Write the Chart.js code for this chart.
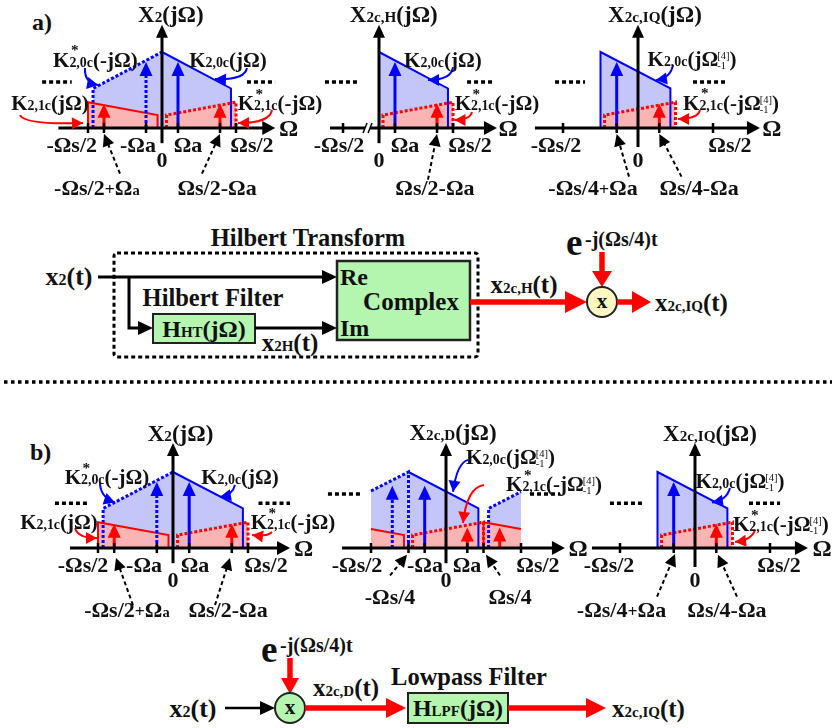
<!DOCTYPE html>
<html>
<head>
<meta charset="utf-8">
<title>Spectra of the IQ conversion</title>
<script src="https://cdn.jsdelivr.net/npm/chart.js@4.4.1/dist/chart.umd.min.js"></script>
<style>
  body { margin:0; background:#fff; }
  #page { position:relative; width:836px; height:728px; overflow:hidden; background:#fff;
          font-family:"Liberation Serif","Times New Roman",serif; font-weight:bold; color:#111; }
  #page svg { position:absolute; left:0; top:0; }
  canvas.spec { position:absolute; }
  .lbl { position:absolute; white-space:nowrap; font-size:22px; line-height:1; transform:translate(-50%,-50%); }
  .s { font-size:66%; }
  .p { font-size:80%; }
  .st { font-size:66%; position:relative; }
  .st b { position:absolute; left:0.1em; top:-0.8em; font-size:110%; }
  .ud { display:inline-block; font-size:50%; line-height:0.95; vertical-align:-0.3em; font-weight:normal; margin-left:-0.1em; }
  .ud span { display:block; }
</style>
</head>
<body>
<div id="page">
<svg width="836" height="728" style="font-family:'Liberation Serif',serif;font-weight:bold" fill="#111">
  <text x="32" y="30" font-size="24">a)</text>
  <text x="30" y="460" font-size="24">b)</text>

  <!-- a) Hilbert transform path -->
  <text x="308" y="246" text-anchor="middle" font-size="24.5">Hilbert Transform</text>
  <rect x="114" y="253" width="364" height="104" rx="3" fill="none" stroke="#000" stroke-width="3" stroke-dasharray="4 3"/>
  <text x="69" y="285" text-anchor="middle" font-size="26">x<tspan font-size="16">2</tspan>(t)</text>
  <line x1="98" y1="277" x2="324" y2="277" stroke="#000" stroke-width="3"/>
  <polygon points="337,277 322,270 322,284" fill="#000"/>
  <polyline points="129,277 129,328 140,328" fill="none" stroke="#000" stroke-width="3"/>
  <polygon points="153,328 138,321 138,335" fill="#000"/>
  <text x="213" y="306" text-anchor="middle" font-size="24.5">Hilbert Filter</text>
  <rect x="153" y="314" width="102" height="29" fill="#b4f5b0" stroke="#222" stroke-width="2"/>
  <text x="204" y="337" text-anchor="middle" font-size="24">H<tspan font-size="15">HT</tspan>(jΩ)</text>
  <line x1="255" y1="328" x2="324" y2="328" stroke="#000" stroke-width="3"/>
  <polygon points="337,328 322,321 322,335" fill="#000"/>
  <text x="290" y="351" text-anchor="middle" font-size="25">x<tspan font-size="15">2H</tspan>(t)</text>
  <rect x="337" y="261" width="133" height="79" fill="#b4f5b0" stroke="#222" stroke-width="2.5"/>
  <text x="340" y="285" font-size="24">Re</text>
  <text x="411" y="310" text-anchor="middle" font-size="25">Complex</text>
  <text x="340" y="336" font-size="24">Im</text>
  <line x1="470" y1="302" x2="568" y2="302" stroke="#f00" stroke-width="5.5"/>
  <polygon points="587,302 565,291 565,313" fill="#f00"/>
  <text x="524" y="293" text-anchor="middle" font-size="25">x<tspan font-size="15">2c,H</tspan>(t)</text>
  <text x="566" y="255" font-size="37">e</text>
  <text x="585" y="246" font-size="20">-j(Ωs/4)t</text>
  <line x1="602" y1="252" x2="602" y2="273" stroke="#f00" stroke-width="5.5"/>
  <polygon points="602,287 592,271 612,271" fill="#f00"/>
  <circle cx="602" cy="302" r="15" fill="#fbf8c4" stroke="#222" stroke-width="2"/>
  <text x="602" y="308" text-anchor="middle" font-size="21">x</text>
  <line x1="617" y1="302" x2="634" y2="302" stroke="#f00" stroke-width="5.5"/>
  <polygon points="651,302 632,291 632,313" fill="#f00"/>
  <text x="655" y="311" font-size="25">x<tspan font-size="15">2c,IQ</tspan>(t)</text>

  <line x1="4" y1="382" x2="832" y2="382" stroke="#000" stroke-width="3.5" stroke-dasharray="3.5 3.5"/>

  <!-- b) down-conversion path -->
  <text x="261" y="662" font-size="37">e</text>
  <text x="280" y="652" font-size="20">-j(Ωs/4)t</text>
  <line x1="290" y1="658" x2="290" y2="680" stroke="#f00" stroke-width="5.5"/>
  <polygon points="290,694 281,678 299,678" fill="#f00"/>
  <text x="193" y="717" text-anchor="middle" font-size="26">x<tspan font-size="16">2</tspan>(t)</text>
  <line x1="225" y1="708" x2="262" y2="708" stroke="#000" stroke-width="2.5"/>
  <polygon points="275,708 260,701 260,715" fill="#000"/>
  <circle cx="290" cy="708" r="15" fill="#b4f5b0" stroke="#222" stroke-width="2"/>
  <text x="290" y="714" text-anchor="middle" font-size="21">x</text>
  <line x1="305" y1="708" x2="388" y2="708" stroke="#f00" stroke-width="5.5"/>
  <polygon points="406,708 386,698 386,718" fill="#f00"/>
  <text x="346" y="696" text-anchor="middle" font-size="25">x<tspan font-size="15">2c,D</tspan>(t)</text>
  <text x="469" y="685" text-anchor="middle" font-size="24.5">Lowpass Filter</text>
  <rect x="408" y="693" width="100" height="30" fill="#b4f5b0" stroke="#222" stroke-width="2"/>
  <text x="458" y="716" text-anchor="middle" font-size="24">H<tspan font-size="15">LPF</tspan>(jΩ)</text>
  <line x1="508" y1="708" x2="588" y2="708" stroke="#f00" stroke-width="5.5"/>
  <polygon points="606,708 586,698 586,718" fill="#f00"/>
  <text x="612" y="717" font-size="25">x<tspan font-size="15">2c,IQ</tspan>(t)</text>
</svg>
</div>
<script>
// ---- spectra: Ω in units of Ωs, height relative to the X2 peak ----
// X2(jΩ)
const x2Blue         = [[0, 1], [0.466, 0.52], [0.466, 0]];
const x2BlueConj     = [[-0.466, 0], [-0.466, 0.52], [0, 1]];
const x2Red          = [[-0.5, 0], [-0.5, 0.34], [-0.03, 0.17], [-0.03, 0]];
const x2RedConj      = [[0.03, 0], [0.03, 0.17], [0.5, 0.34], [0.5, 0]];
const x2ToneBlue     = [[0.108, 0.87]];
const x2ToneBlueConj = [[-0.108, 0.87]];
const x2ToneRed      = [[-0.392, 0.32], [0.392, 0.32]];
const x2Ticks        = [-0.5, -0.392, -0.108, 0.108, 0.392, 0.5];

// X2c,H(jΩ)
const xhBlue     = [[0, 1], [0.466, 0.52], [0.466, 0]];
const xhRedConj  = [[0.027, 0], [0.027, 0.17], [0.5, 0.34], [0.5, 0]];
const xhToneBlue = [[0.108, 0.87]];
const xhToneRed  = [[0.392, 0.32]];
const xhTicks    = [-0.243, 0.108, 0.392, 0.5];

// X2c,D(jΩ)
const xdBlueConj     = [[-0.5, 0.75], [-0.25, 1], [-0.25, 0]];
const xdBlue         = [[-0.25, 1], [0.216, 0.52], [0.216, 0]];
const xdBlueConj2    = [[0.284, 0], [0.284, 0.52], [0.5, 0.74]];
const xdRed          = [[-0.5, 0.25], [-0.28, 0.17], [-0.28, 0]];
const xdRedConj      = [[-0.223, 0], [-0.223, 0.17], [0.25, 0.34], [0.25, 0]];
const xdRed2         = [[0.25, 0], [0.25, 0.34], [0.5, 0.25]];
const xdToneBlue     = [[-0.142, 0.82]];
const xdToneBlueConj = [[-0.358, 0.82]];
const xdToneRed      = [[0.142, 0.27], [0.358, 0.27]];
const xdTicks        = [-0.5, -0.25, -0.142, 0.142, 0.25, 0.5];

// X2c,IQ(jΩ)
const xqBlue     = [[-0.25, 0], [-0.25, 1], [0.216, 0.52], [0.216, 0]];
const xqRedConj  = [[-0.223, 0], [-0.223, 0.17], [0.25, 0.34], [0.25, 0]];
const xqToneBlue = [[-0.142, 0.87]];
const xqToneRed  = [[0.142, 0.32]];
const xqTicks    = [-0.5, -0.142, 0.142, 0.5];

const STYLE = {
  red:      { line: '#ff0000', fill: '#fbb4b4', w: 2, dash: [] },
  redDash:  { line: '#ff0000', fill: '#fbb4b4', w: 3, dash: [3, 2] },
  blue:     { line: '#0000ff', fill: '#c4c6fa', w: 2, dash: [] },
  blueDash: { line: '#0000ff', fill: '#c4c6fa', w: 3, dash: [3, 2] }
};

// red first so its fill lands on top of the blue one
const specX2 = {
  sets: [['red', x2Red], ['redDash', x2RedConj], ['blue', x2Blue], ['blueDash', x2BlueConj]],
  tones: [['red', x2ToneRed], ['blue', x2ToneBlue], ['blueDash', x2ToneBlueConj]]
};
const specXH = {
  sets: [['redDash', xhRedConj], ['blue', xhBlue]],
  tones: [['red', xhToneRed], ['blue', xhToneBlue]]
};
const specXD = {
  sets: [['red', xdRed], ['red', xdRed2], ['redDash', xdRedConj], ['blue', xdBlue], ['blueDash', xdBlueConj], ['blueDash', xdBlueConj2]],
  tones: [['red', xdToneRed], ['blue', xdToneBlue], ['blueDash', xdToneBlueConj]]
};
const specXQ = {
  sets: [['redDash', xqRedConj], ['blue', xqBlue]],
  tones: [['red', xqToneRed], ['blue', xqToneBlue]]
};

const sm = t => '<span class="s">' + t + '</span>';
const st = t => '<span class="st">' + t + '<b>*</b></span>';
const om = t => 'Ω<span class="ud"><span>[4]</span><span>' + t + '</span></span>';

const decoX2a = {
  axis: { x: [-0.7, 0.765], y: [-0.2, 1.36] }, ticks: x2Ticks,
  dots: [[-0.81, -0.61, 0.605], [0.574, 0.764, 0.605]],
  pointers: [[-0.284, -0.6, -0.392, -0.08], [0.27, -0.6, 0.392, -0.08]],
  curves: [['blue', [-0.52, 0.79], [-0.527, 0.6], [-0.432, 0.566]],
           ['blue', [0.574, 0.79], [0.56, 0.63], [0.358, 0.645]],
           ['red', [-0.96, 0.17], [-0.926, 0.04], [-0.534, 0.066]],
           ['red', [0.743, 0.237], [0.73, 0.066], [0.514, 0.066]]],
  labels: [
    ['X' + sm('2') + '(jΩ)', 0.06, 1.5, 23],
    ['K' + st('2,0c') + '(-jΩ)', -0.45, 0.9, 21],
    ['K' + sm('2,0c') + '(jΩ)', 0.446, 0.9, 21],
    ['K' + sm('2,1c') + '(jΩ)', -0.757, 0.33, 21],
    ['K' + st('2,1c') + '(-jΩ)', 0.797, 0.33, 21],
    ['-Ωs/2', -0.61, -0.22], ['-Ωa', -0.162, -0.22], ['Ωa', 0.176, -0.22], ['Ωs/2', 0.608, -0.22],
    ['0', 0, -0.42], ['Ω', 0.855, 0, 24],
    ['-Ωs/2<span class="p">+</span>Ω' + sm('a'), -0.44, -0.79], ['Ωs/2-Ωa', 0.372, -0.79]
  ]
};
const decoX2b = {
  axis: { x: [-0.687, 0.78], y: [-0.2, 1.38] }, ticks: x2Ticks,
  dots: [[-0.787, -0.573, 0.59], [0.57, 0.78, 0.59]],
  pointers: [[-0.267, -0.75, -0.38, -0.13], [0.28, -0.75, 0.38, -0.13]],
  curves: [['blue', [-0.487, 0.87], [-0.487, 0.67], [-0.387, 0.6]],
           ['blue', [0.413, 0.83], [0.4, 0.7], [0.313, 0.67]],
           ['red', [-0.653, 0.26], [-0.633, 0.13], [-0.507, 0.13]],
           ['red', [0.66, 0.21], [0.627, 0.145], [0.527, 0.17]]],
  labels: [
    ['X' + sm('2') + '(jΩ)', 0.05, 1.51, 23],
    ['K' + st('2,0c') + '(-jΩ)', -0.44, 0.93, 21],
    ['K' + sm('2,0c') + '(jΩ)', 0.447, 0.93, 21],
    ['K' + sm('2,1c') + '(jΩ)', -0.76, 0.34, 21],
    ['K' + st('2,1c') + '(-jΩ)', 0.8, 0.34, 21],
    ['-Ωs/2', -0.6, -0.22], ['-Ωa', -0.193, -0.22], ['Ωa', 0.147, -0.22], ['Ωs/2', 0.62, -0.22],
    ['0', 0, -0.42], ['Ω', 0.87, 0, 24],
    ['-Ωs/2<span class="p">+</span>Ω' + sm('a'), -0.307, -0.82], ['Ωs/2-Ωa', 0.367, -0.82]
  ]
};
const decoXH = {
  axis: { x: [-0.331, 0.797], y: [-0.2, 1.36] }, ticks: xhTicks, brk: -0.074,
  dots: [[-0.365, -0.142, 0.605], [0.595, 0.77, 0.605]],
  pointers: [[0.331, -0.68, 0.392, -0.08]],
  curves: [['blue', [0.5, 0.8], [0.49, 0.63], [0.331, 0.63]],
           ['red', [0.628, 0.21], [0.615, 0.105], [0.51, 0.105]]],
  labels: [
    ['X' + sm('2c,H') + '(jΩ)', 0.1, 1.5, 23],
    ['K' + sm('2,0c') + '(jΩ)', 0.432, 0.9, 21],
    ['K' + st('2,1c') + '(-jΩ)', 0.797, 0.33, 21],
    ['-Ωs/2', -0.27, -0.22], ['Ωa', 0.176, -0.22], ['Ωs/2', 0.615, -0.22],
    ['0', 0, -0.42], ['Ω', 0.872, 0, 24], ['Ωs/2-Ωa', 0.378, -0.79]
  ]
};
const decoXD = {
  axis: { x: [-0.693, 0.793], y: [-0.2, 1.38] }, ticks: xdTicks,
  dots: [[-0.787, -0.573, 0.71], [0.56, 0.76, 0.71]],
  pointers: [[-0.373, -0.36, -0.26, -0.09], [0.36, -0.36, 0.267, -0.09]],
  curves: [['blue', [0.147, 1.16], [0.073, 1.12], [0.047, 0.74]],
           ['red', [0.253, 0.83], [0.14, 0.8], [0.113, 0.33]]],
  labels: [
    ['X' + sm('2c,D') + '(jΩ)', 0.047, 1.53, 23],
    ['K' + sm('2,0c') + '(j' + om('-1') + ')', 0.43, 1.18, 21],
    ['K' + st('2,1c') + '(-j' + om('-1') + ')', 0.72, 0.83, 21],
    ['-Ωs/2', -0.593, -0.22], ['-Ωa', -0.14, -0.22], ['Ωa', 0.14, -0.22], ['Ωs/2', 0.613, -0.22],
    ['0', 0, -0.42], ['Ω', 0.88, 0, 24], ['-Ωs/4', -0.373, -0.645], ['Ωs/4', 0.427, -0.645]
  ]
};
const decoXQa = {
  axis: { x: [-0.687, 0.813], y: [-0.25, 1.36] }, ticks: xqTicks,
  dots: [[-0.553, -0.353, 0.605], [0.367, 0.58, 0.605]],
  pointers: [[-0.06, -0.64, -0.142, -0.08], [0.29, -0.64, 0.142, -0.08]],
  curves: [['blue', [0.233, 0.83], [0.22, 0.66], [0.12, 0.63]],
           ['red', [0.413, 0.237], [0.4, 0.12], [0.267, 0.118]]],
  labels: [
    ['X' + sm('2c,IQ') + '(jΩ)', 0.113, 1.5, 23],
    ['K' + sm('2,0c') + '(j' + om('-1') + ')', 0.36, 0.9, 21],
    ['K' + st('2,1c') + '(-j' + om('-1') + ')', 0.62, 0.32, 21],
    ['-Ωs/2', -0.547, -0.22], ['Ωs/2', 0.613, -0.22],
    ['0', 0, -0.42], ['Ω', 0.893, 0, 24],
    ['-Ωs/4<span class="p">+</span>Ωa', -0.3, -0.79], ['Ωs/4-Ωa', 0.407, -0.79]
  ]
};
const decoXQb = {
  axis: { x: [-0.687, 0.753], y: [-0.25, 1.38] }, ticks: xqTicks,
  dots: [[-0.567, -0.353, 0.59], [0.36, 0.567, 0.59]],
  pointers: [[-0.253, -0.64, -0.133, -0.08], [0.28, -0.64, 0.153, -0.09]],
  curves: [['blue', [0.233, 0.79], [0.213, 0.63], [0.113, 0.6]],
           ['red', [0.4, 0.24], [0.38, 0.105], [0.267, 0.08]]],
  labels: [
    ['X' + sm('2c,IQ') + '(jΩ)', 0.1, 1.51, 23],
    ['K' + sm('2,0c') + '(j' + om('-1') + ')', 0.3, 0.87, 21],
    ['K' + st('2,1c') + '(-j' + om('-1') + ')', 0.573, 0.3, 21],
    ['-Ωs/2', -0.573, -0.22], ['Ωs/2', 0.56, -0.22],
    ['0', 0, -0.42], ['Ω', 0.847, 0, 24],
    ['-Ωs/4<span class="p">+</span>Ωa', -0.49, -0.82], ['Ωs/4-Ωa', 0.213, -0.82]
  ]
};

const panels = [
  { box: [0, 0, 300, 200],     org: [162, 128], sx: 148, sy: 76, spec: specX2, deco: decoX2a },
  { box: [280, 0, 260, 200],   org: [99, 128],  sx: 148, sy: 76, spec: specXH, deco: decoXH },
  { box: [530, 0, 306, 200],   org: [108, 128], sx: 150, sy: 76, spec: specXQ, deco: decoXQa },
  { box: [0, 410, 300, 210],   org: [173, 138], sx: 150, sy: 76, spec: specX2, deco: decoX2b },
  { box: [280, 410, 300, 210], org: [166, 138], sx: 150, sy: 76, spec: specXD, deco: decoXD },
  { box: [560, 410, 276, 210], org: [135, 138], sx: 150, sy: 76, spec: specXQ, deco: decoXQb }
];

function head(ctx, x0, y0, x1, y1, len, half, color) {
  const a = Math.atan2(y1 - y0, x1 - x0), c = Math.cos(a), s = Math.sin(a);
  ctx.beginPath();
  ctx.moveTo(x1, y1);
  ctx.lineTo(x1 - len * c + half * s, y1 - len * s - half * c);
  ctx.lineTo(x1 - len * c - half * s, y1 - len * s + half * c);
  ctx.closePath();
  ctx.fillStyle = color;
  ctx.fill();
}

function arrow(ctx, x0, y0, x1, y1, o) {
  const d = Math.hypot(x1 - x0, y1 - y0), k = (d - o.len + 1) / d;
  ctx.save();
  ctx.strokeStyle = o.color; ctx.lineWidth = o.w; ctx.setLineDash(o.dash || []);
  ctx.beginPath(); ctx.moveTo(x0, y0); ctx.lineTo(x0 + (x1 - x0) * k, y0 + (y1 - y0) * k); ctx.stroke();
  ctx.restore();
  head(ctx, x0, y0, x1, y1, o.len, o.half, o.color);
}

function drawDecor(chart, spec, deco) {
  const ctx = chart.ctx;
  const X = v => chart.scales.x.getPixelForValue(v);
  const Y = v => chart.scales.y.getPixelForValue(v);
  ctx.save();
  // spectral lines
  spec.tones.forEach(([k, list]) => list.forEach(([x, h]) => {
    arrow(ctx, X(x), Y(0), X(x), Y(h), { color: STYLE[k].line, w: 3, dash: STYLE[k].dash, len: 14, half: 6.5 });
  }));
  // axes
  arrow(ctx, X(deco.axis.x[0]), Y(0), X(deco.axis.x[1]), Y(0), { color: '#000', w: 3, len: 13, half: 7 });
  arrow(ctx, X(0), Y(deco.axis.y[0]), X(0), Y(deco.axis.y[1]), { color: '#000', w: 3, len: 13, half: 6 });
  ctx.strokeStyle = '#000'; ctx.lineWidth = 2.5;
  deco.ticks.forEach(t => { ctx.beginPath(); ctx.moveTo(X(t), Y(0) - 5); ctx.lineTo(X(t), Y(0) + 5); ctx.stroke(); });
  if (deco.brk !== undefined) {
    const bx = X(deco.brk), by = Y(0);
    ctx.fillStyle = '#fff'; ctx.fillRect(bx - 3, by - 3, 5, 6);
    ctx.lineWidth = 1.5;
    [-3, 2].forEach(dx => { ctx.beginPath(); ctx.moveTo(bx + dx - 2, by + 5); ctx.lineTo(bx + dx + 2, by - 5); ctx.stroke(); });
  }
  // continuation dots
  ctx.lineWidth = 3.5; ctx.setLineDash([4, 3]);
  deco.dots.forEach(([a, b, y]) => { ctx.beginPath(); ctx.moveTo(X(a), Y(y)); ctx.lineTo(X(b), Y(y)); ctx.stroke(); });
  ctx.setLineDash([]);
  // dashed pointers from the frequency labels
  deco.pointers.forEach(([a, b, c, d]) => arrow(ctx, X(a), Y(b), X(c), Y(d), { color: '#000', w: 2, dash: [4, 3], len: 12, half: 6 }));
  // curved callouts
  deco.curves.forEach(([col, p0, pc, p1]) => {
    const color = STYLE[col].line;
    ctx.strokeStyle = color; ctx.lineWidth = 2;
    ctx.beginPath(); ctx.moveTo(X(p0[0]), Y(p0[1]));
    ctx.quadraticCurveTo(X(pc[0]), Y(pc[1]), X(p1[0]), Y(p1[1]));
    ctx.stroke();
    head(ctx, X(pc[0]), Y(pc[1]), X(p1[0]), Y(p1[1]), 11, 6, color);
  });
  ctx.restore();
}

const page = document.getElementById('page');

panels.forEach(p => {
  const [L, T, W, H] = p.box;
  const [ox, oy] = p.org;
  const cv = document.createElement('canvas');
  cv.width = W; cv.height = H; cv.className = 'spec';
  cv.style.left = L + 'px'; cv.style.top = T + 'px';
  page.appendChild(cv);

  const datasets = p.spec.sets.map(([k, pts]) => ({
    data: pts.map(q => ({ x: q[0], y: q[1] })),
    showLine: true,
    borderColor: STYLE[k].line,
    borderWidth: STYLE[k].w,
    borderDash: STYLE[k].dash,
    backgroundColor: STYLE[k].fill,
    fill: 'origin',
    pointRadius: 0,
    tension: 0,
    clip: false
  }));

  const chart = new Chart(cv, {
    type: 'scatter',
    data: { datasets },
    options: {
      responsive: false, animation: false, events: [],
      layout: { padding: 0 },
      scales: {
        x: { type: 'linear', display: false, min: -ox / p.sx, max: (W - ox) / p.sx },
        y: { type: 'linear', display: false, min: -(H - oy) / p.sy, max: oy / p.sy }
      },
      plugins: { legend: { display: false }, tooltip: { enabled: false }, filler: { drawTime: 'beforeDatasetsDraw' } }
    },
    plugins: [{ id: 'decor', afterDatasetsDraw(c) { drawDecor(c, p.spec, p.deco); } }]
  });

  const xs = chart.scales.x, ys = chart.scales.y;
  p.deco.labels.forEach(([html, x, y, f]) => {
    const d = document.createElement('div');
    d.className = 'lbl';
    d.innerHTML = html;
    d.style.left = (L + xs.getPixelForValue(x)) + 'px';
    d.style.top = (T + ys.getPixelForValue(y)) + 'px';
    if (f) d.style.fontSize = f + 'px';
    page.appendChild(d);
  });
});
</script>
</body>
</html>
